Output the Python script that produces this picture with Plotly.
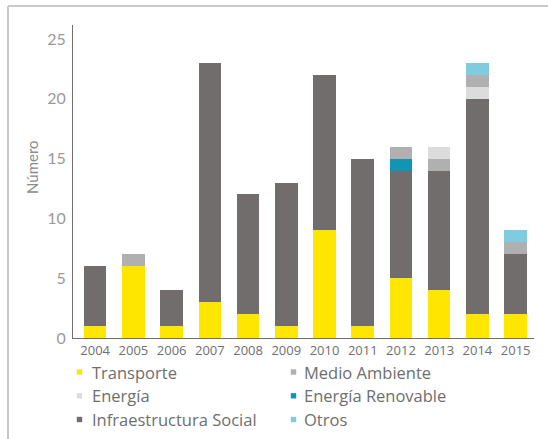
import plotly.graph_objects as go

# Proyectos por año y sector
anios = ["2004", "2005", "2006", "2007", "2008", "2009",
         "2010", "2011", "2012", "2013", "2014", "2015"]
transporte = [1, 6, 1, 3, 2, 1, 9, 1, 5, 4, 2, 2]
infraestructura_social = [5, 0, 3, 20, 10, 12, 13, 14, 9, 10, 18, 5]
energia_renovable = [0, 0, 0, 0, 0, 0, 0, 0, 1, 0, 0, 0]
medio_ambiente = [0, 1, 0, 0, 0, 0, 0, 0, 1, 1, 1, 1]
energia = [0, 0, 0, 0, 0, 0, 0, 0, 0, 1, 1, 0]
otros = [0, 0, 0, 0, 0, 0, 0, 0, 0, 0, 1, 1]

y_ticks = [0, 5, 10, 15, 20, 25]

series = {
    "Transporte": (transporte, "#FFE600"),
    "Infraestructura Social": (infraestructura_social, "#716D6D"),
    "Energía Renovable": (energia_renovable, "#1195B2"),
    "Medio Ambiente": (medio_ambiente, "#B1B0B0"),
    "Energía": (energia, "#DCDCDC"),
    "Otros": (otros, "#7FCBE0"),
}

# orden de apilado (de abajo hacia arriba)
orden_base = ["Transporte", "Infraestructura Social", "Energía Renovable",
              "Medio Ambiente", "Energía", "Otros"]
orden_especial = {"2014": ["Transporte", "Infraestructura Social", "Energía",
                           "Medio Ambiente", "Energía Renovable", "Otros"]}

# bases de cada segmento
bases = {k: [0] * len(anios) for k in series}
for i, a in enumerate(anios):
    acum = 0
    for k in orden_especial.get(a, orden_base):
        bases[k][i] = acum
        acum += series[k][0][i]

fig = go.Figure()
for k, (vals, color) in series.items():
    fig.add_trace(go.Bar(
        x=anios, y=vals, base=bases[k], name=k,
        marker=dict(color=color, line=dict(width=0)),
        width=0.59, showlegend=False,
    ))

# geometría en píxeles
W, H = 548, 439
L, R, T, B = 73, 14, 25, 101
pw, ph = W - L - R, H - T - B


def px(x):
    return (x - L) / pw


def py(y):
    return (H - B - y) / ph


font = "Lato, 'Open Sans', sans-serif"
font_texto = "'Open Sans', sans-serif"

shapes = [
    # marco exterior
    dict(type="line", xref="paper", yref="paper", x0=px(8), x1=px(8),
         y0=py(6), y1=py(H + 5), line=dict(color="#C9C9C9", width=2)),
    dict(type="line", xref="paper", yref="paper", x0=px(8), x1=px(W + 5),
         y0=py(6), y1=py(6), line=dict(color="#C9C9C9", width=2)),
]
annotations = [
    dict(text="Número", xref="paper", yref="paper", x=px(32), y=py(167),
         textangle=-90, showarrow=False, xanchor="center", yanchor="middle",
         font=dict(family=font, size=15, color="#8C8C8C")),
]

# leyenda en dos columnas
leyenda = [["Transporte", "Medio Ambiente"],
           ["Energía", "Energía Renovable"],
           ["Infraestructura Social", "Otros"]]
col_marker = [79.5, 293.5]
col_text = [90, 301.5]
filas = [372, 395.8, 419.5]
for r, fila in enumerate(leyenda):
    for c, nombre in enumerate(fila):
        yc = filas[r]
        xc = col_marker[c]
        shapes.append(dict(type="rect", xref="paper", yref="paper",
                           x0=px(xc - 2.7), x1=px(xc + 2.7),
                           y0=py(yc + 2.7), y1=py(yc - 2.7),
                           fillcolor=series[nombre][1], line=dict(width=0)))
        annotations.append(dict(text=nombre, xref="paper", yref="paper",
                                x=px(col_text[c]), y=py(yc), showarrow=False,
                                xanchor="left", yanchor="middle",
                                font=dict(family=font_texto, size=16.5,
                                          color="#6E6E6E")))

fig.update_layout(
    width=W, height=H,
    margin=dict(l=L, r=R, t=T, b=B, pad=0),
    paper_bgcolor="white", plot_bgcolor="white",
    barmode="overlay", bargap=0,
    shapes=shapes, annotations=annotations,
    font=dict(family=font),
    xaxis=dict(
        type="category", range=[-0.58, 11.48],
        showline=True, linecolor="#6E6E6E", linewidth=1.2,
        ticks="", showgrid=False, zeroline=False,
        tickfont=dict(family=font_texto, size=13, color="#707070"),
    ),
    yaxis=dict(
        range=[0, ph / 11.96], tickvals=y_ticks,
        showline=True, linecolor="#6E6E6E", linewidth=1.2,
        ticks="", showgrid=False, zeroline=False,
        ticklabelstandoff=3,
        tickfont=dict(family=font, size=16, color="#9A9A9A"),
    ),
)

fig.write_html("out.html")
